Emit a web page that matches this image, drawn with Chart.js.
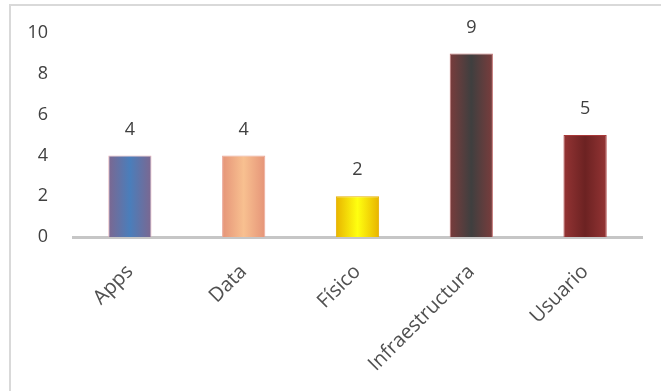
<!DOCTYPE html>
<html>
<head>
<meta charset="utf-8">
<script src="https://cdn.jsdelivr.net/npm/chart.js@4"></script>
<style>
  html, body { margin: 0; padding: 0; background: #fff; }
  #wrap { position: relative; width: 661px; height: 391px; overflow: hidden; }
  #frame { position: absolute; left: 9px; top: 4px; width: 700px; height: 450px; border: 2px solid #d9d9d9; box-sizing: border-box; }
  canvas { position: absolute; left: 0; top: 0; }
</style>
</head>
<body>
<div id="wrap">
  <div id="frame"></div>
  <canvas id="chart" width="661" height="391"></canvas>
</div>
<script>
// Values
const categories = ["Apps", "Data", "Físico", "Infraestructura", "Usuario"]
const counts = [4, 4, 2, 9, 5]
const yTicks = [0, 2, 4, 6, 8, 10]

// Colours: centre of the bar, edge of the bar, outline
const centreColors = ["#4a7ebb", "#f8c090", "#ffff10", "#3f3f3f", "#6c2222"]
const edgeColors = ["#7c6790", "#e59478", "#e8b400", "#7a3c3c", "#943434"]
const lineColors = ["#e4b0b8", "#eaa898", "#e6b000", "#c07070", "#a83838"]

const barPct = 0.38
const font = "'Open Sans', 'DejaVu Sans', sans-serif"

function barFill(ctx) {
  const chart = ctx.chart
  const i = ctx.dataIndex
  if (!chart.chartArea || !chart.scales.x) return centreColors[i]
  const x = chart.scales.x.getPixelForValue(i)
  const half = chart.chartArea.width / categories.length * barPct / 2
  const g = chart.ctx.createLinearGradient(x - half, 0, x + half, 0)
  g.addColorStop(0, edgeColors[i])
  g.addColorStop(0.5, centreColors[i])
  g.addColorStop(1, edgeColors[i])
  return g
}

// labels above bars, taken from the drawn elements
const valueLabels = {
  id: "valueLabels",
  afterDatasetsDraw(chart) {
    const c = chart.ctx
    const meta = chart.getDatasetMeta(0)
    c.save()
    c.font = "18px " + font
    c.fillStyle = "#404040"
    c.textAlign = "center"
    c.textBaseline = "middle"
    meta.data.forEach((bar, i) => {
      c.fillText(String(counts[i]), bar.x, bar.y - 26)
    })
    c.restore()
  }
}

new Chart(document.getElementById("chart"), {
  type: "bar",
  data: {
    labels: categories,
    datasets: [{
      data: counts,
      backgroundColor: barFill,
      borderColor: lineColors,
      borderWidth: 1,
      barPercentage: barPct,
      categoryPercentage: 1
    }]
  },
  options: {
    responsive: false,
    animation: false,
    layout: { padding: { top: 33, right: 19, left: 0, bottom: 0 } },
    plugins: { legend: { display: false }, tooltip: { enabled: false } },
    scales: {
      x: {
        grid: { display: false },
        border: { display: true, color: "#c6c6c6", width: 3 },
        ticks: {
          color: "#505050",
          font: { family: font, size: 20 },
          minRotation: 45,
          maxRotation: 45,
          padding: 15,
          labelOffset: 0
        },
        afterFit(scale) { scale.height = 391 - 237 }
      },
      y: {
        min: 0,
        max: 10,
        grid: { display: false },
        border: { display: false },
        afterBuildTicks(scale) { scale.ticks = yTicks.map(v => ({ value: v })) },
        ticks: {
          color: "#404040",
          font: { family: font, size: 18 },
          padding: 17
        },
        afterFit(scale) { scale.width = 73 }
      }
    }
  },
  plugins: [valueLabels]
})
</script>
</body>
</html>
